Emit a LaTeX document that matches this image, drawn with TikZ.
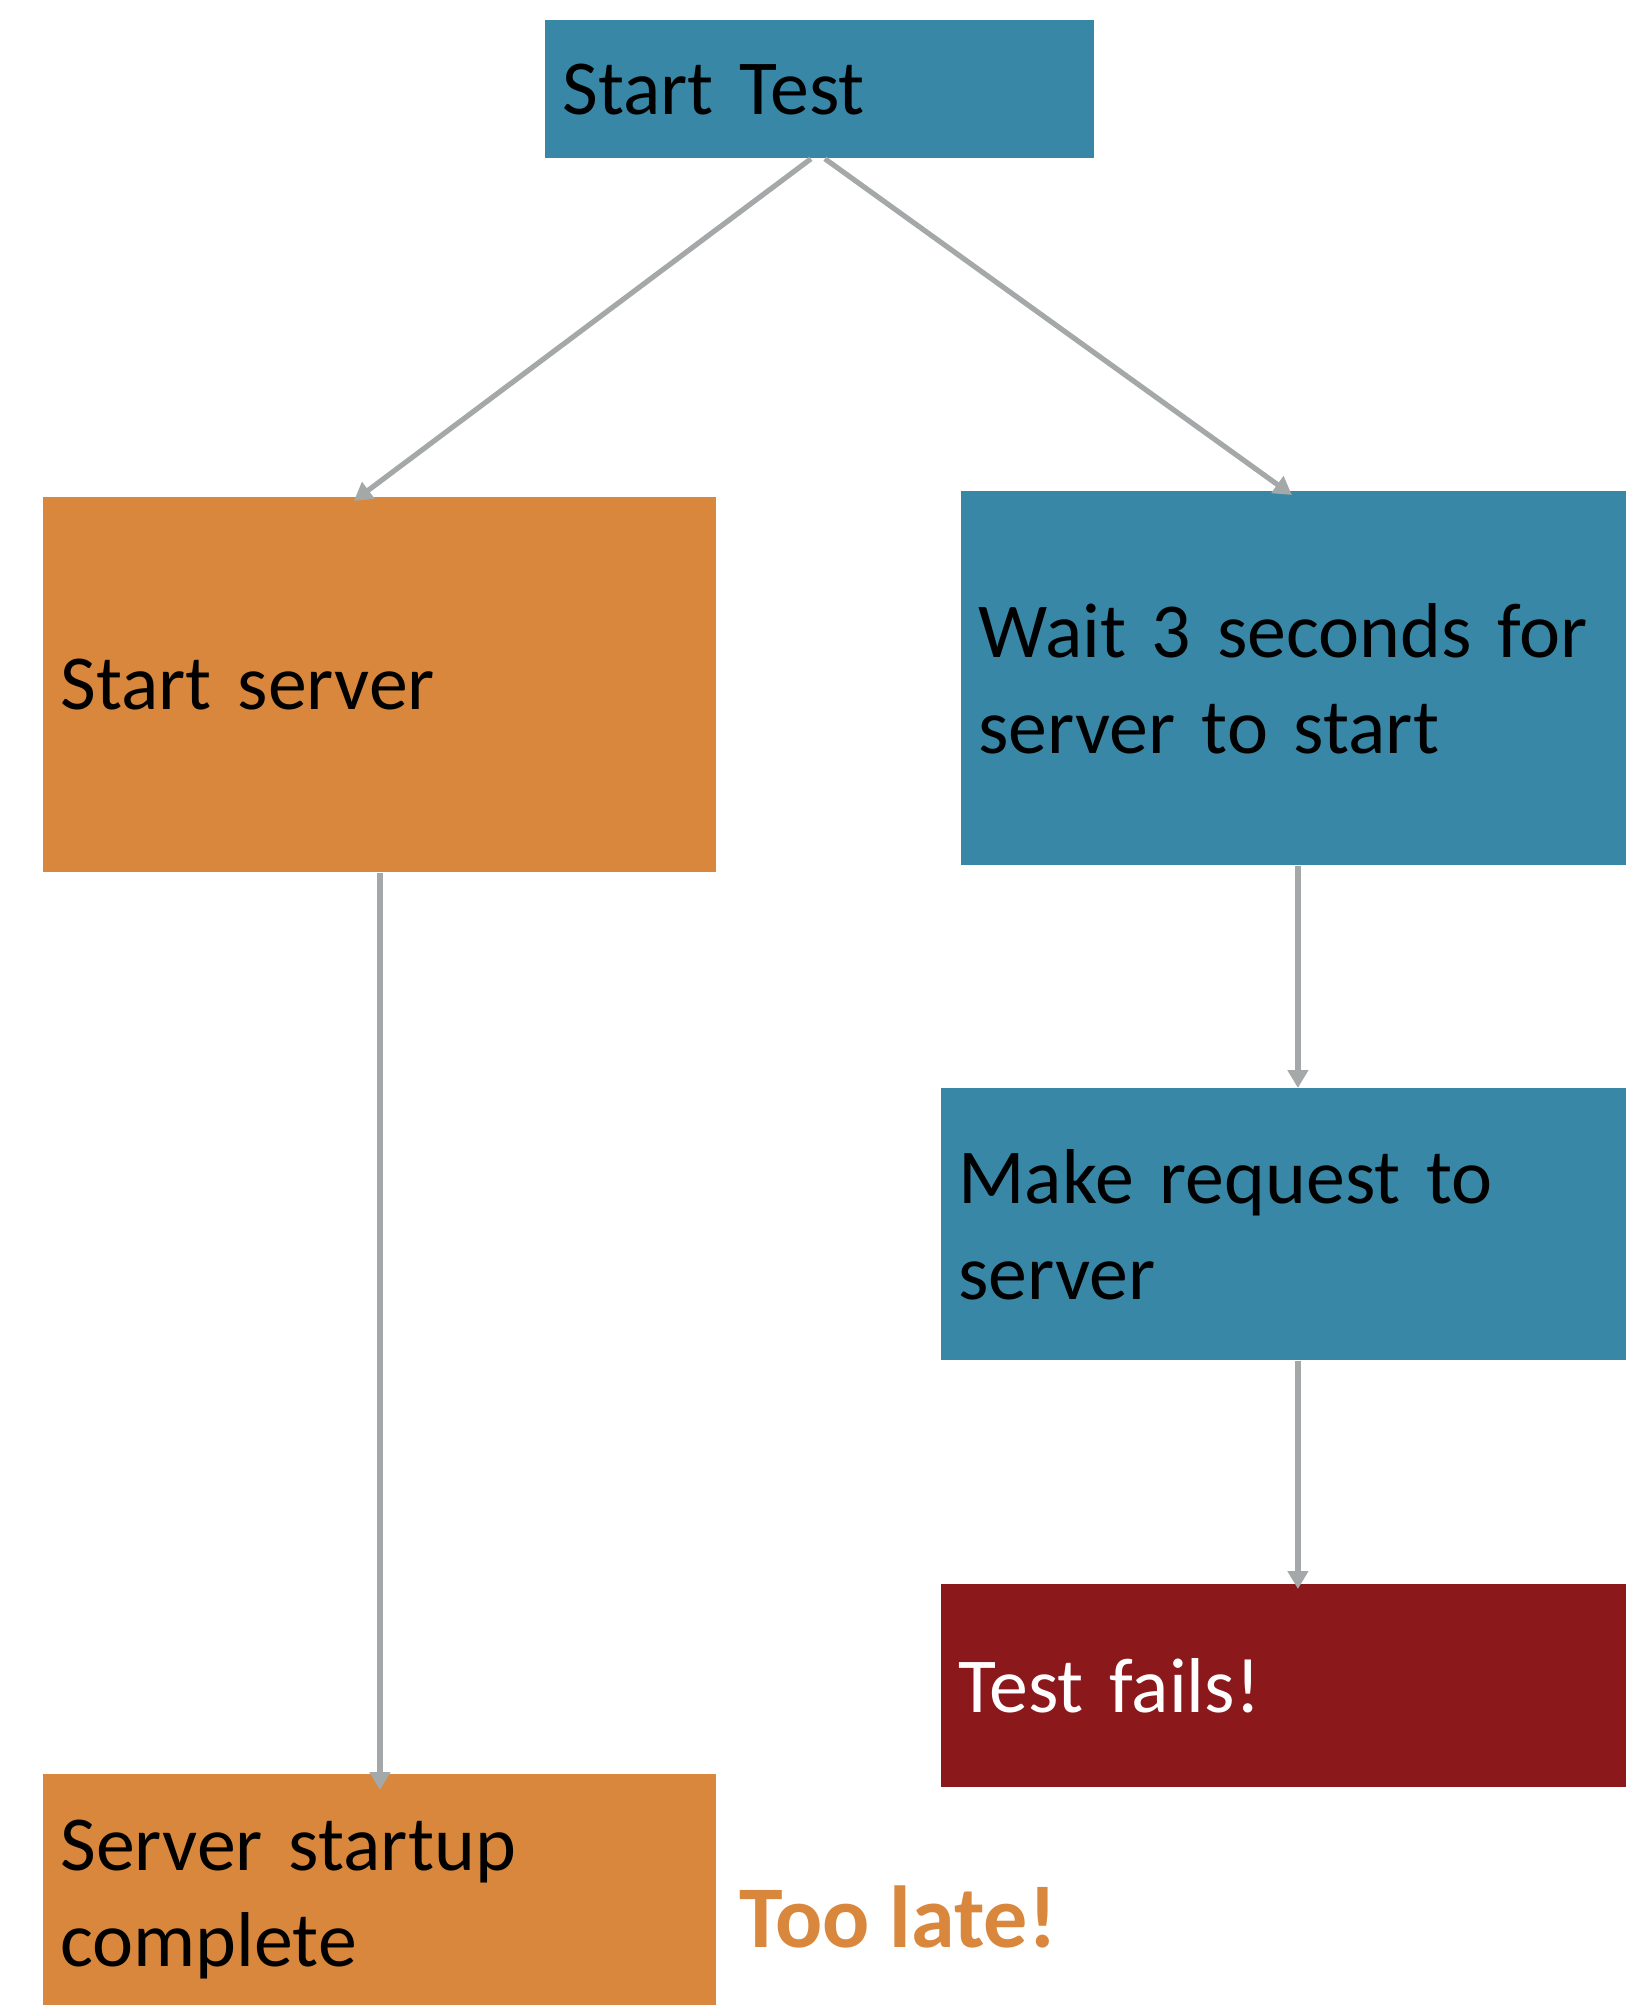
\documentclass[tikz,border=0pt]{standalone}
\usepackage{fontspec}
\setmainfont{Carlito}
\usetikzlibrary{arrows.meta}

\definecolor{boxblue}{RGB}{56,135,166}
\definecolor{boxorange}{RGB}{216,135,60}
\definecolor{boxred}{RGB}{139,24,26}
\definecolor{arrowgray}{RGB}{165,168,168}

\begin{document}
\begin{tikzpicture}[
        x=0.5bp, y=-0.5bp,
        box/.style={rectangle, anchor=north west, align=left, inner xsep=8.5bp,
                inner ysep=0pt, font=\fontsize{38.9bp}{48bp}\selectfont},
        arr/.style={draw=arrowgray, line width=2.6bp,
                -{Triangle[length=9bp, width=10bp]}}
    ]
            \useasboundingbox (0,0) rectangle (1626,2005);

            % boxes
            \node[box, fill=boxblue, text width=257.5bp, minimum height=69bp]
                (start) at (545,20) {Start Test};
            \node[box, fill=boxorange, text width=319.5bp, minimum height=187.5bp]
                (server) at (43,497) {Start server};
            \node[box, fill=boxblue, text width=315.5bp, minimum height=187bp]
                (wait) at (961,491) {Wait 3 seconds for\\server to start};
            \node[box, fill=boxblue, text width=325.5bp, minimum height=136bp]
                (request) at (941,1088) {Make request to\\server};
            \node[box, fill=boxred, text=white, text width=325.5bp, minimum height=101.5bp]
                (fails) at (941,1584) {Test fails!};
            \node[box, fill=boxorange, text width=319.5bp, minimum height=125bp]
                (complete) at (43,1774) {Server startup\\complete};

            % notations
            \node[text=boxorange, font=\fontsize{44bp}{48bp}\selectfont\bfseries]
                (late) at (898,1917) {Too late!};

            % arrows
            \draw[arr] ([xshift=-4.5bp]start.south) -- ([xshift=-13bp, yshift=-2bp]server.north);
            \draw[arr] ([xshift=2.5bp]start.south) -- ([xshift=-1bp, yshift=-2bp]wait.north);
            \draw[arr] ([xshift=2bp]wait.south) -- ([xshift=2bp]wait.south |- request.north);
            \draw[arr] ([xshift=7bp]request.south) -- ([xshift=7bp, yshift=-2.5bp]request.south |- fails.north);
            \draw[arr] (server.south) -- ([yshift=-8bp]complete.north);

\end{tikzpicture}
\end{document}
